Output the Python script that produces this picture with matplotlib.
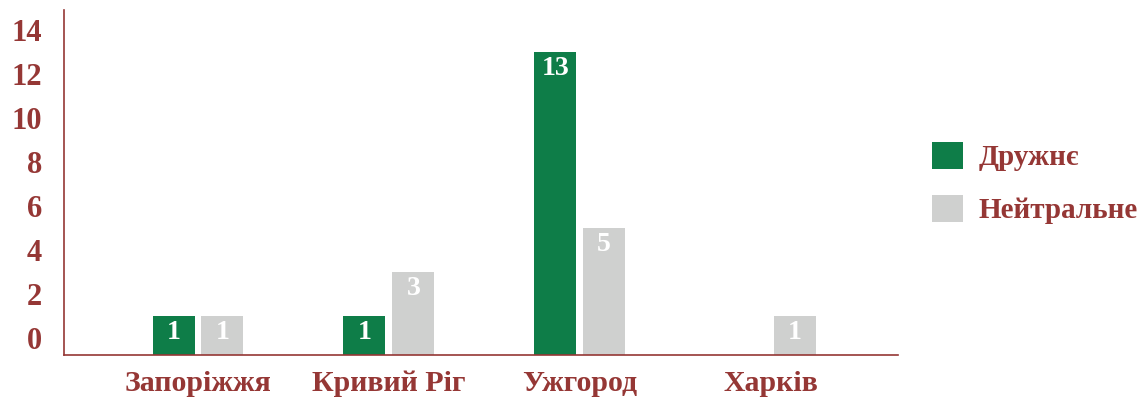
import numpy as np
import matplotlib.pyplot as plt

# données
villes = ['Запоріжжя', 'Кривий Ріг', 'Ужгород', 'Харків']
druzhnie = [1, 1, 13, 0]
neitralne = [1, 3, 5, 1]
series = ['Дружнє', 'Нейтральне']
yticks = [0, 2, 4, 6, 8, 10, 12, 14]

vert = '#0E7D48'
gris = '#CFD0CF'
rouge = '#953735'
plt.rcParams['font.family'] = ['Liberation Serif', 'DejaVu Serif']
plt.rcParams['font.weight'] = 'bold'

fig = plt.figure(figsize=(11.41, 3.99), dpi=100)
ax = fig.add_axes([0.0561, 0.1103, 0.7309, 0.8647])

ymin = -0.77
x = np.arange(len(villes))
w = 0.22
dx = 0.128

def barres(vals, pos, couleur, nom):
    h = [v - ymin if v > 0 else 0 for v in vals]
    b = ax.bar(pos, h, w, bottom=ymin, color=couleur, label=nom)
    for xi, v in zip(pos, vals):
        if v > 0:
            ax.annotate(str(v), xy=(xi, v), xytext=(0, -3), textcoords='offset points',
                        ha='center', va='top', color='white', fontsize=20, fontweight='bold')
    return b

barres(druzhnie, x - dx, vert, series[0])
barres(neitralne, x + dx, gris, series[1])

ax.set_ylim(ymin, 14.9)
ax.set_xlim(-0.702, 3.667)
ax.set_yticks(yticks)
ax.set_xticks(x)
ax.set_xticklabels(villes)
ax.tick_params(axis='both', length=0, labelsize=22, labelcolor=rouge)
ax.tick_params(axis='y', pad=16)
ax.tick_params(axis='x', pad=11, labelsize=21.5)
for lab in ax.get_xticklabels() + ax.get_yticklabels():
    lab.set_fontweight('bold')

for s in ['top', 'right']:
    ax.spines[s].set_visible(False)
for s in ['left', 'bottom']:
    ax.spines[s].set_color(rouge)
    ax.spines[s].set_linewidth(1.2)

leg = ax.legend(loc='center left', bbox_to_anchor=(0.8168, 0.541), bbox_transform=fig.transFigure,
                frameon=False, fontsize=21, handlelength=1.05, handleheight=1.05,
                labelspacing=0.8, handletextpad=0.55, borderpad=0, borderaxespad=0)
for t in leg.get_texts():
    t.set_color(rouge)
    t.set_fontweight('bold')

plt.savefig('out.png', dpi=100)
